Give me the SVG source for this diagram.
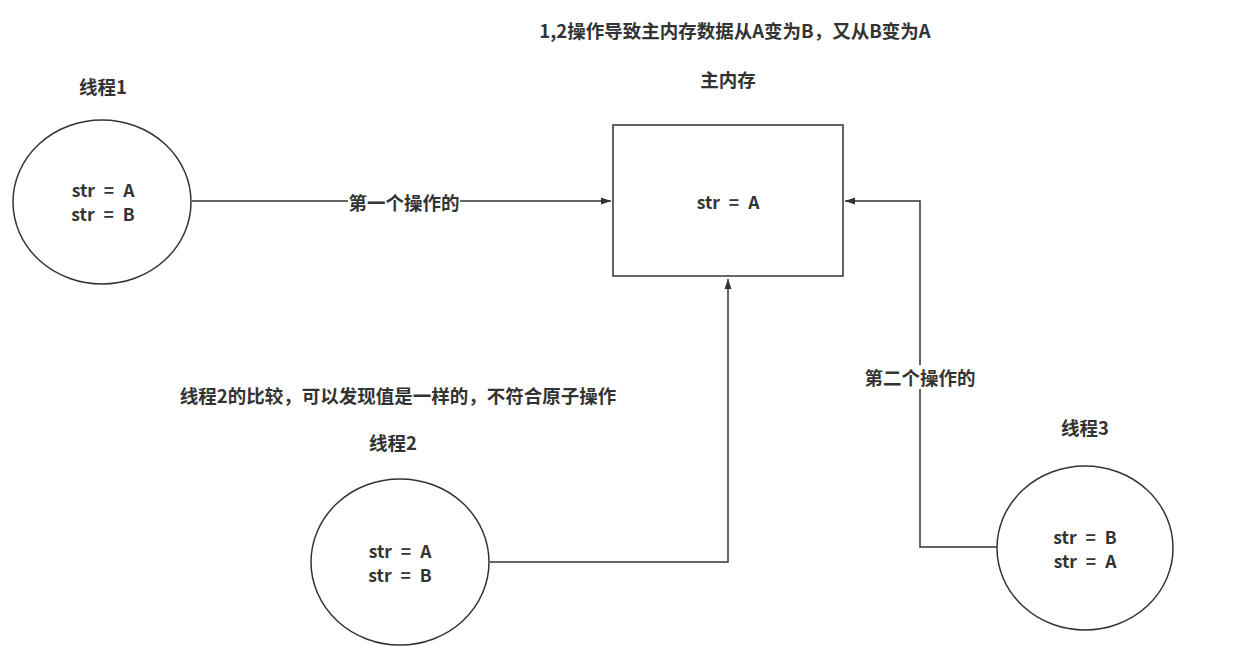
<svg xmlns="http://www.w3.org/2000/svg" width="1234" height="658" viewBox="0 0 1234 658">
  <style>
    text { font-family: "Noto Sans CJK SC", "Noto Sans", sans-serif; font-weight: bold; font-size: 18.5px; fill: #333; text-anchor: middle; dominant-baseline: central; }
    text.v { word-spacing: 5px; font-size: 17.5px; }
    .shape { fill: #fff; stroke: #333; stroke-width: 1.5; }
    .edge { fill: none; stroke: #333; stroke-width: 1.5; }
    .bg { fill: #fff; stroke: none; }
  </style>
  <defs>
    <marker id="arrow" viewBox="0 0 10 10" refX="10" refY="5" markerWidth="10" markerHeight="10" markerUnits="userSpaceOnUse" orient="auto">
      <path d="M0,1.5 L10,5 L0,8.5 z" fill="#333"/>
    </marker>
  </defs>
  <rect width="1234" height="658" fill="#fff"/>

  <g id="connectors">
    <path class="edge" d="M192,201 L611,201" marker-end="url(#arrow)"/>
    <path class="edge" d="M490,562 L728,562 L728,279" marker-end="url(#arrow)"/>
    <path class="edge" d="M997,547 L920,547 L920,201 L845,201" marker-end="url(#arrow)"/>
    <rect class="bg" x="348" y="190" width="112" height="24"/>
    <text x="404" y="202">第一个操作的</text>
    <rect class="bg" x="864" y="365" width="112" height="24"/>
    <text x="920" y="377">第二个操作的</text>
  </g>

  <g id="title">
    <text x="735" y="30">1,2操作导致主内存数据从A变为B，又从B变为A</text>
  </g>

  <g id="main-memory">
    <text x="728" y="79">主内存</text>
    <rect class="shape" x="613" y="125" width="230" height="151"/>
    <text class="v" x="728" y="201">str = A</text>
  </g>

  <g id="thread1">
    <text x="103" y="86">线程1</text>
    <ellipse class="shape" cx="102" cy="202" rx="89" ry="82"/>
    <text class="v" x="103" y="189">str = A</text>
    <text class="v" x="103" y="213">str = B</text>
  </g>

  <g id="thread2">
    <text x="398" y="395">线程2的比较，可以发现值是一样的，不符合原子操作</text>
    <text x="393" y="442">线程2</text>
    <ellipse class="shape" cx="400" cy="562" rx="89" ry="83"/>
    <text class="v" x="400" y="550">str = A</text>
    <text class="v" x="400" y="574">str = B</text>
  </g>

  <g id="thread3">
    <text x="1085" y="427">线程3</text>
    <ellipse class="shape" cx="1085" cy="548" rx="88" ry="82"/>
    <text class="v" x="1085" y="536">str = B</text>
    <text class="v" x="1085" y="560">str = A</text>
  </g>
</svg>
